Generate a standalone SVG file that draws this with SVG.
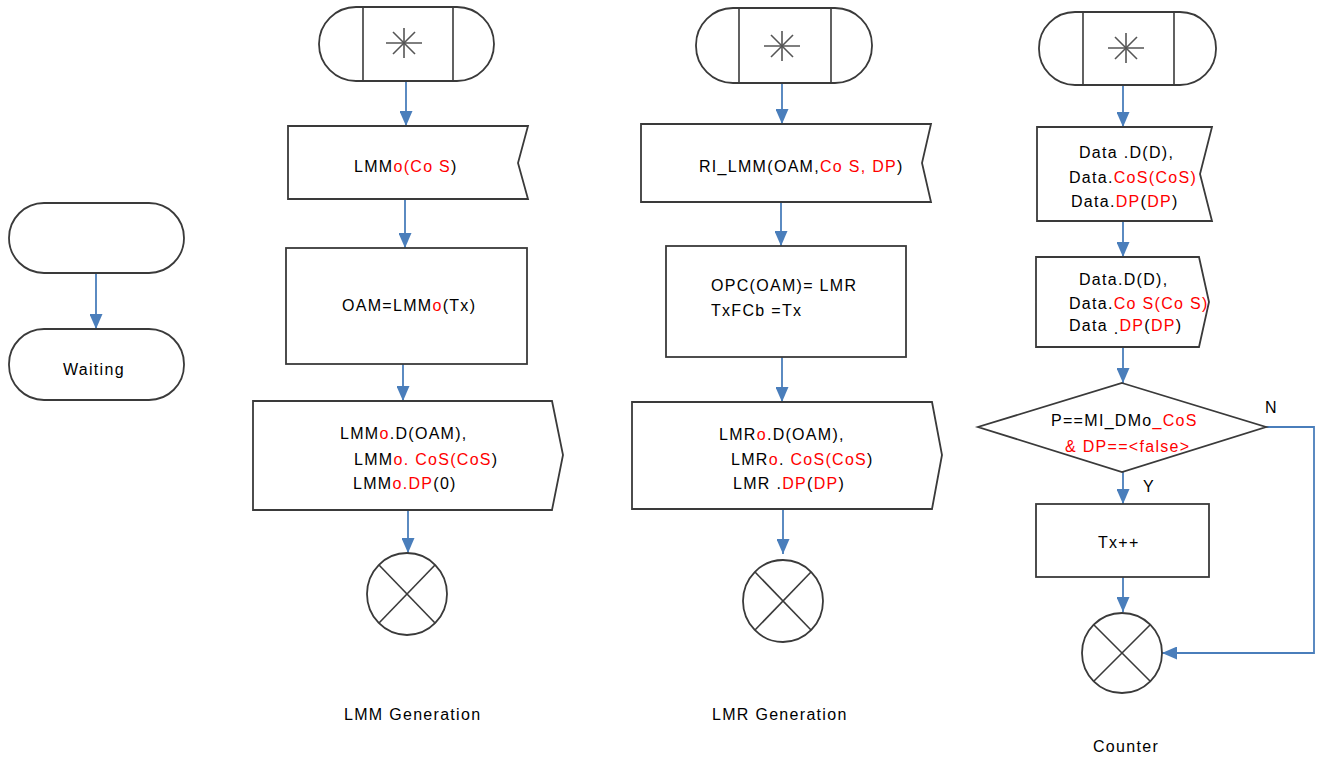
<svg xmlns="http://www.w3.org/2000/svg" width="1319" height="758" viewBox="0 0 1319 758">
<defs>
<marker id="ah" markerUnits="userSpaceOnUse" markerWidth="15" markerHeight="13" refX="15" refY="6.5" orient="auto" viewBox="0 0 15 13">
<path d="M0,0 L15,6.5 L0,13 z" fill="#4a7ebb"/>
</marker>
<style>
.s{fill:#fff;stroke:#3a3a3a;stroke-width:1.8}
.ln{stroke:#3a3a3a;stroke-width:1.6;fill:none}
.ast{stroke:#555;stroke-width:1.6}
.c{stroke:#4a7ebb;stroke-width:1.8;fill:none;marker-end:url(#ah)}
text{font-family:"Liberation Sans",Arial,sans-serif;font-size:16px;letter-spacing:1.3px;fill:#000}
.r{fill:#ff0000}
</style>
</defs>
<rect width="1319" height="758" fill="#fff"/>

<g id="connectors">
<path class="c" d="M96,273 L96,329"/>
<path class="c" d="M406,81 L406,126"/>
<path class="c" d="M405,199 L405,248"/>
<path class="c" d="M403,364 L403,401"/>
<path class="c" d="M408,510 L408,553"/>
<path class="c" d="M782,83 L782,124"/>
<path class="c" d="M781,202 L781,246"/>
<path class="c" d="M782,357 L782,402"/>
<path class="c" d="M783,509 L783,554"/>
<path class="c" d="M1123,85 L1123,127"/>
<path class="c" d="M1123,221 L1123,257"/>
<path class="c" d="M1123,347 L1123,383"/>
<path class="c" d="M1123,472 L1123,504"/>
<path class="c" d="M1123,577 L1123,612"/>
<path class="c" d="M1266,427 L1314,427 L1314,653 L1162,653"/>
</g>

<g id="start-left">
<rect class="s" x="9" y="203" width="175" height="70" rx="35" ry="35"/>
</g>
<g id="waiting">
<rect class="s" x="9" y="329" width="175" height="71" rx="35" ry="35"/>
<text x="63" y="375">Waiting</text>
</g>

<g id="lmm-start">
<rect class="s" x="319" y="7" width="175" height="74" rx="37" ry="37"/>
<line class="ln" x1="363" y1="7" x2="363" y2="81"/>
<line class="ln" x1="453" y1="7" x2="453" y2="81"/>
<line class="ast" x1="386" y1="43" x2="422" y2="43"/>
<line class="ast" x1="404" y1="28" x2="404" y2="58"/>
<line class="ast" x1="393" y1="32" x2="415" y2="54"/>
<line class="ast" x1="393" y1="54" x2="415" y2="32"/>
</g>
<g id="lmm-receive">
<path class="s" d="M288,126 L528,126 L518,163 L528,199 L288,199 Z"/>
<text x="354" y="172">LMM<tspan class="r">o(Co S</tspan>)</text>
</g>
<g id="lmm-process">
<rect class="s" x="286" y="248" width="241" height="116"/>
<text x="342" y="311">OAM=LMM<tspan class="r">o</tspan>(Tx)</text>
</g>
<g id="lmm-send">
<path class="s" d="M253,401 L552,401 L563,455 L552,510 L253,510 Z"/>
<text x="340" y="439">LMM<tspan class="r">o</tspan>.D(OAM),</text>
<text x="354" y="465">LMM<tspan class="r">o. CoS(CoS</tspan>)</text>
<text x="353" y="489">LMM<tspan class="r">o.DP</tspan>(0)</text>
</g>
<g id="lmm-end">
<ellipse class="s" cx="407" cy="594" rx="40" ry="41"/>
<line class="ln" x1="379" y1="565" x2="435" y2="623"/>
<line class="ln" x1="379" y1="623" x2="435" y2="565"/>
</g>
<g id="lmm-label">
<text x="344" y="720">LMM Generation</text>
</g>

<g id="lmr-start">
<rect class="s" x="696" y="8" width="176" height="75" rx="37" ry="37"/>
<line class="ln" x1="739" y1="8" x2="739" y2="83"/>
<line class="ln" x1="831" y1="8" x2="831" y2="83"/>
<line class="ast" x1="764" y1="46" x2="800" y2="46"/>
<line class="ast" x1="782" y1="31" x2="782" y2="61"/>
<line class="ast" x1="771" y1="35" x2="793" y2="57"/>
<line class="ast" x1="771" y1="57" x2="793" y2="35"/>
</g>
<g id="lmr-receive">
<path class="s" d="M641,124 L931,124 L922,163 L931,202 L641,202 Z"/>
<text x="699" y="172">RI_LMM(OAM,<tspan class="r">Co S, DP</tspan>)</text>
</g>
<g id="lmr-process">
<rect class="s" x="666" y="246" width="240" height="111"/>
<text x="711" y="291">OPC(OAM)= LMR</text>
<text x="711" y="316">TxFCb =Tx</text>
</g>
<g id="lmr-send">
<path class="s" d="M632,402 L932,402 L942,455 L932,509 L632,509 Z"/>
<text x="719" y="440">LMR<tspan class="r">o</tspan>.D(OAM),</text>
<text x="731" y="465">LMR<tspan class="r">o</tspan>. <tspan class="r">CoS(CoS</tspan>)</text>
<text x="733" y="489">LMR .<tspan class="r">DP</tspan>(<tspan class="r">DP</tspan>)</text>
</g>
<g id="lmr-end">
<ellipse class="s" cx="783" cy="601" rx="40" ry="41"/>
<line class="ln" x1="755" y1="572" x2="811" y2="630"/>
<line class="ln" x1="755" y1="630" x2="811" y2="572"/>
</g>
<g id="lmr-label">
<text x="712" y="720">LMR Generation</text>
</g>

<g id="counter-start">
<rect class="s" x="1039" y="12" width="177" height="73" rx="36" ry="36"/>
<line class="ln" x1="1083" y1="12" x2="1083" y2="85"/>
<line class="ln" x1="1174" y1="12" x2="1174" y2="85"/>
<line class="ast" x1="1108" y1="48" x2="1144" y2="48"/>
<line class="ast" x1="1126" y1="33" x2="1126" y2="63"/>
<line class="ast" x1="1115" y1="37" x2="1137" y2="59"/>
<line class="ast" x1="1115" y1="59" x2="1137" y2="37"/>
</g>
<g id="counter-receive">
<path class="s" d="M1037,127 L1212,127 L1200,174 L1212,221 L1037,221 Z"/>
<text x="1079" y="158">Data .D(D),</text>
<text x="1069" y="183">Data.<tspan class="r">CoS(CoS)</tspan></text>
<text x="1071" y="207">Data.<tspan class="r">DP</tspan>(<tspan class="r">DP</tspan>)</text>
</g>
<g id="counter-send">
<path class="s" d="M1036,257 L1199,257 L1209,302 L1199,347 L1036,347 Z"/>
<text x="1079" y="285">Data.D(D),</text>
<text x="1069" y="309">Data.<tspan class="r">Co S(Co S)</tspan></text>
<text x="1069" y="331">Data <tspan dy="3">.</tspan><tspan class="r" dy="-3">DP</tspan>(<tspan class="r">DP</tspan>)</text>
</g>
<g id="counter-decision">
<path class="s" d="M1122,383 L1266,427 L1122,472 L978,427 Z"/>
<text x="1051" y="426">P==MI_DMo<tspan class="r">_CoS</tspan></text>
<text x="1065" y="452" class="r">&amp; DP==&lt;false&gt;</text>
<text x="1265" y="413">N</text>
<text x="1143" y="492">Y</text>
</g>
<g id="counter-process">
<rect class="s" x="1036" y="504" width="173" height="73"/>
<text x="1098" y="548">Tx++</text>
</g>
<g id="counter-end">
<ellipse class="s" cx="1122" cy="653" rx="40" ry="40"/>
<line class="ln" x1="1094" y1="625" x2="1150" y2="681"/>
<line class="ln" x1="1094" y1="681" x2="1150" y2="625"/>
</g>
<g id="counter-label">
<text x="1093" y="752">Counter</text>
</g>
</svg>
